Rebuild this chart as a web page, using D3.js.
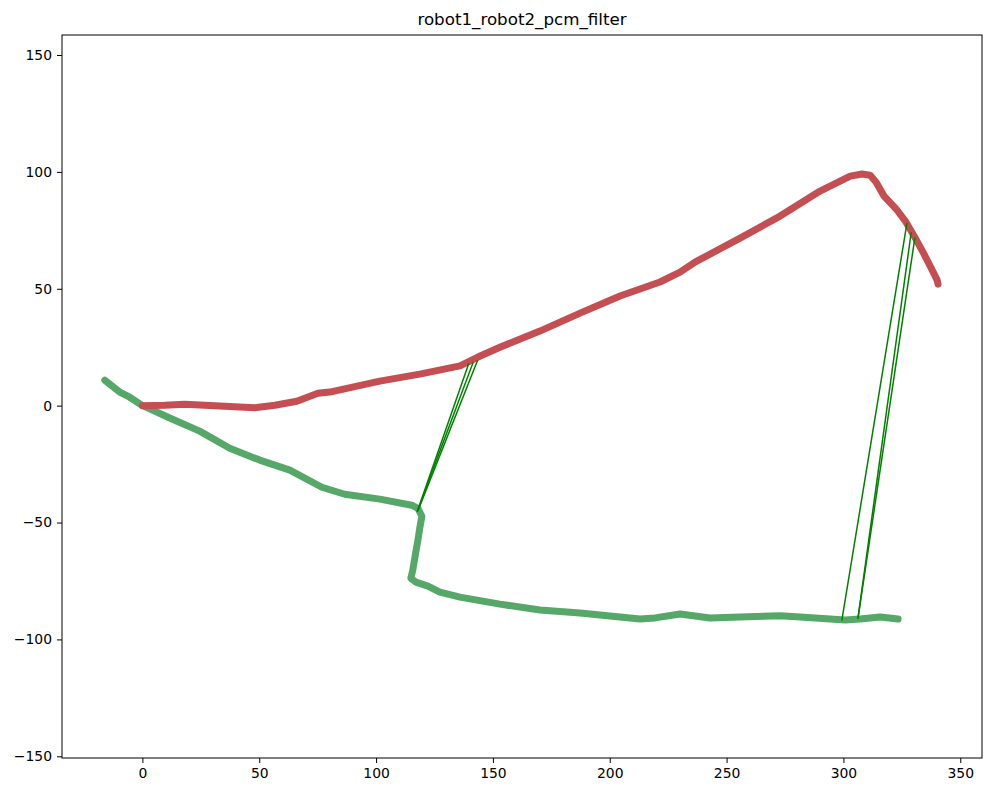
<!DOCTYPE html>
<html>
<head>
<meta charset="utf-8">
<script src="https://cdn.jsdelivr.net/npm/d3@7"></script>
<style>
  body { margin: 0; background: #fff; }
  svg { display: block; }
</style>
</head>
<body>
<div id="chart"></div>
<script>
// Trajectory of robot1 (x, y)
const robot1X = [0, 9.5, 18.1, 33.1, 48.1, 56.7, 66.1, 75.1, 80.2, 101.6, 118.7, 135.9, 143.6, 153.0, 170.1, 187.3, 204.4, 221.5, 230.1, 236.5, 255.8, 272.9, 290.0, 302.9, 308.0, 311.4, 314.0, 317.4, 323.0, 326.8, 330.3, 334.5, 338.0, 340.1, 340.5];
const robot1Y = [0, 0.2, 0.6, -0.2, -0.9, 0.2, 1.9, 5.3, 5.8, 10.5, 13.5, 17.0, 20.8, 25.0, 31.9, 39.6, 46.9, 52.9, 57.1, 61.4, 71.7, 81.1, 91.8, 98.2, 99.1, 98.6, 95.6, 89.6, 83.6, 78.5, 72.5, 64.8, 58.0, 53.7, 52.0];

// Trajectory of robot2 (x, y)
const robot2X = [-16.1, -9.7, -5.4, -0.3, 11.7, 24.5, 37.4, 50.2, 63.1, 76.8, 86.6, 101.6, 115.3, 117.9, 119.6, 118.7, 117.9, 117.0, 115.7, 114.9, 117.0, 122.2, 127.3, 135.9, 153.0, 170.1, 187.3, 204.4, 213.0, 219.4, 230.1, 242.9, 255.8, 272.9, 281.5, 300.7, 307.1, 315.7, 323.4];
const robot2Y = [10.9, 5.8, 3.6, 0.2, -5.3, -10.9, -18.2, -23.3, -27.6, -34.9, -37.9, -40.0, -42.6, -43.9, -47.3, -52.4, -57.6, -62.7, -70.4, -73.8, -75.5, -77.2, -79.8, -81.9, -84.9, -87.4, -88.7, -90.4, -91.3, -90.8, -89.1, -90.8, -90.4, -89.9, -90.4, -91.7, -91.3, -90.4, -91.3];

// Inter-robot loop closures kept by PCM: robot1 point -> robot2 point
const loopR1X = [139.7, 141.6, 143.5, 327.2, 329.0, 330.6];
const loopR1Y = [18.1, 18.7, 19.5, 78.2, 74.1, 72.0];
const loopR2X = [117.6, 117.6, 117.9, 299.3, 306.2, 306.2];
const loopR2Y = [-45.4, -45.4, -45.0, -92.0, -91.1, -91.1];

const xTicks = [0, 50, 100, 150, 200, 250, 300, 350];
const yTicks = [-150, -100, -50, 0, 50, 100, 150];

const width = 997, height = 797;
const margin = { top: 35, right: 15, bottom: 39, left: 62 };

const svg = d3.select("#chart").append("svg")
  .attr("width", width)
  .attr("height", height)
  .attr("font-family", "DejaVu Sans, sans-serif");

const x = d3.scaleLinear()
  .domain([-34.4, 359.3])
  .range([margin.left, width - margin.right]);

const y = d3.scaleLinear()
  .domain([-150.73, 158.56])
  .range([height - margin.bottom, margin.top]);

const line = d3.line().x(d => x(d[0])).y(d => y(d[1]));

const r1 = robot1X.map((v, i) => [v, robot1Y[i]]);
const r2 = robot2X.map((v, i) => [v, robot2Y[i]]);

const plot = svg.append("g");

plot.append("path")
  .datum(r2)
  .attr("d", line)
  .attr("fill", "none")
  .attr("stroke", "#55a868")
  .attr("stroke-width", 7)
  .attr("stroke-linecap", "round")
  .attr("stroke-linejoin", "round");

plot.append("path")
  .datum(r1)
  .attr("d", line)
  .attr("fill", "none")
  .attr("stroke", "#c44e52")
  .attr("stroke-width", 7)
  .attr("stroke-linecap", "round")
  .attr("stroke-linejoin", "round");

plot.selectAll("line.loop")
  .data(loopR1X.map((v, i) => i))
  .enter()
  .append("line")
  .attr("class", "loop")
  .attr("x1", i => x(loopR1X[i]))
  .attr("y1", i => y(loopR1Y[i]))
  .attr("x2", i => x(loopR2X[i]))
  .attr("y2", i => y(loopR2Y[i]))
  .attr("stroke", "#008000")
  .attr("stroke-width", 1.5);

// Axes
const fmt = d => d < 0 ? "\u2212" + Math.abs(d) : String(d);

svg.append("g")
  .attr("transform", `translate(0,${height - margin.bottom})`)
  .call(d3.axisBottom(x).tickValues(xTicks).tickFormat(fmt).tickSize(5).tickPadding(5))
  .call(g => g.select(".domain").remove())
  .call(g => g.selectAll(".tick line").attr("stroke", "#000").attr("stroke-width", 1))
  .call(g => g.selectAll(".tick text").attr("font-size", 13.9).attr("font-family", "DejaVu Sans, sans-serif").attr("fill", "#000"));

svg.append("g")
  .attr("transform", `translate(${margin.left},0)`)
  .call(d3.axisLeft(y).tickValues(yTicks).tickFormat(fmt).tickSize(5).tickPadding(5))
  .call(g => g.select(".domain").remove())
  .call(g => g.selectAll(".tick line").attr("stroke", "#000").attr("stroke-width", 1))
  .call(g => g.selectAll(".tick text").attr("font-size", 13.9).attr("font-family", "DejaVu Sans, sans-serif").attr("fill", "#000"));

// Frame
svg.append("rect")
  .attr("x", margin.left)
  .attr("y", margin.top)
  .attr("width", width - margin.left - margin.right)
  .attr("height", height - margin.top - margin.bottom)
  .attr("fill", "none")
  .attr("stroke", "#000")
  .attr("stroke-width", 1);

// Title
svg.append("text")
  .attr("x", (margin.left + width - margin.right) / 2)
  .attr("y", margin.top - 10)
  .attr("text-anchor", "middle")
  .attr("font-size", 16.7)
  .attr("fill", "#000")
  .text("robot1_robot2_pcm_filter");
</script>
</body>
</html>
